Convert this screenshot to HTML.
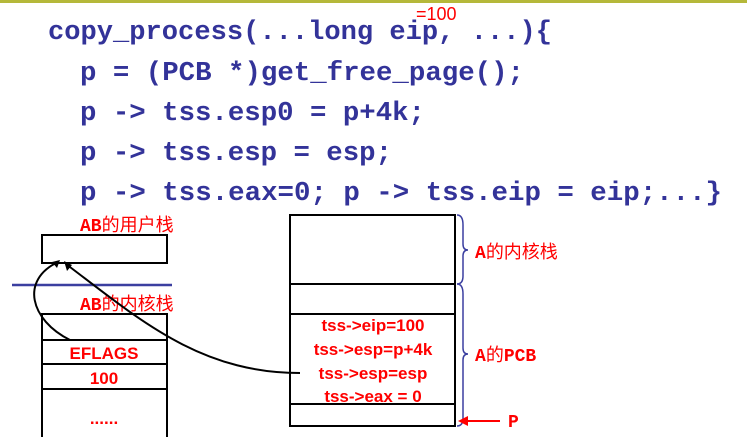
<!DOCTYPE html>
<html><head><meta charset="utf-8"><style>
html,body{margin:0;padding:0;background:#fff;}
svg{display:block;}
.code{font-family:"Liberation Mono",monospace;font-weight:bold;font-size:27px;fill:#333399;}
.r{fill:#ff0000;font-family:"Liberation Sans",sans-serif;font-weight:bold;}
.cj{fill:#ff0000;font-family:"Liberation Mono","Noto Sans CJK SC",monospace;font-size:18px;}
.cj tspan.b{font-weight:bold;}
</style></head><body>
<svg width="747" height="437" viewBox="0 0 747 437" xmlns="http://www.w3.org/2000/svg">
<rect x="0" y="0" width="747" height="3" fill="#b5b83a"/>
<text class="code" x="48" y="39" textLength="504" lengthAdjust="spacingAndGlyphs">copy_process(...long eip, ...){</text>
<text x="416" y="20" fill="#ff0000" font-family="Liberation Sans,sans-serif" font-size="18">=100</text>
<text class="code" x="80" y="80" textLength="444" lengthAdjust="spacingAndGlyphs">p = (PCB *)get_free_page();</text>
<text class="code" x="80" y="120" textLength="345" lengthAdjust="spacingAndGlyphs">p -&gt; tss.esp0 = p+4k;</text>
<text class="code" x="80" y="160" textLength="312" lengthAdjust="spacingAndGlyphs">p -&gt; tss.esp = esp;</text>
<text class="code" x="80" y="200" textLength="642" lengthAdjust="spacingAndGlyphs">p -&gt; tss.eax=0; p -&gt; tss.eip = eip;...}</text>

<text class="cj" x="80" y="231"><tspan class="b">AB</tspan>的用户栈</text>
<rect x="42" y="235" width="125" height="28" fill="none" stroke="#000" stroke-width="2"/>
<line x1="12" y1="285" x2="172" y2="285" stroke="#3b3fa0" stroke-width="2.5"/>
<text class="cj" x="80" y="310"><tspan class="b">AB</tspan>的内核栈</text>
<path d="M42 437 V314 H167 V437" fill="none" stroke="#000" stroke-width="2"/>
<line x1="42" y1="340" x2="167" y2="340" stroke="#000" stroke-width="2"/>
<line x1="42" y1="364" x2="167" y2="364" stroke="#000" stroke-width="2"/>
<line x1="42" y1="389" x2="167" y2="389" stroke="#000" stroke-width="2"/>
<text class="r" x="104" y="359" font-size="17" text-anchor="middle">EFLAGS</text>
<text class="r" x="104" y="384" font-size="17" text-anchor="middle">100</text>
<text class="r" x="104" y="424" font-size="17" text-anchor="middle">......</text>

<rect x="290" y="215" width="165" height="211" fill="none" stroke="#000" stroke-width="2"/>
<line x1="290" y1="284" x2="455" y2="284" stroke="#000" stroke-width="2"/>
<line x1="290" y1="314" x2="455" y2="314" stroke="#000" stroke-width="2"/>
<line x1="290" y1="404" x2="455" y2="404" stroke="#000" stroke-width="2"/>
<g class="r" font-size="17" text-anchor="middle">
<text x="373" y="331">tss-&gt;eip=100</text>
<text x="373" y="355">tss-&gt;esp=p+4k</text>
<text x="373" y="379">tss-&gt;esp=esp</text>
<text x="373" y="402">tss-&gt;eax = 0</text>
</g>
<path d="M457 215 Q463 215 463 225 V244 Q463 250 468 250 Q463 250 463 256 V276 Q463 284 457 284" fill="none" stroke="#3b3fa0" stroke-width="1.5"/>
<path d="M457 284 Q463 284 463 294 V348 Q463 354 468 354 Q463 354 463 360 V418 Q463 426 457 426" fill="none" stroke="#3b3fa0" stroke-width="1.5"/>
<text class="cj" x="475" y="258"><tspan class="b">A</tspan>的内核栈</text>
<text class="cj" x="475" y="361"><tspan class="b">A</tspan>的<tspan class="b">PCB</tspan></text>
<line x1="462" y1="421" x2="500" y2="421" stroke="#ff0000" stroke-width="2"/>
<path d="M458 421 L468 416 L468 426 Z" fill="#ff0000"/>
<text class="cj" x="508" y="427" font-size="18" font-weight="bold">P</text>

<path d="M70 340 C30 320 20 280 58 262" fill="none" stroke="#000" stroke-width="2"/>
<path d="M60 260 L52 262 L57 268 Z" fill="#000"/>
<path d="M300 373 C200 373 140 320 66 264" fill="none" stroke="#000" stroke-width="2"/>
<path d="M64 261 L67 271 L72 265 Z" fill="#000"/>
</svg>
</body></html>
